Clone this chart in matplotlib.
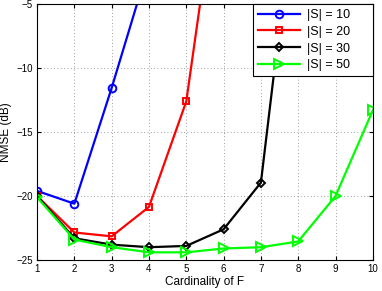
import matplotlib
matplotlib.use("Agg")
import matplotlib.pyplot as plt

plt.rcParams["font.family"] = ["Liberation Sans", "DejaVu Sans"]

# cardinality of F
card_f = [1, 2, 3, 4, 5, 6, 7, 8, 9, 10]

# NMSE (dB) for each |S|
nmse_s10 = [-19.6, -20.6, -11.55, -1.9]
nmse_s20 = [-20.0, -22.85, -23.15, -20.85, -12.6, 8.0]
nmse_s30 = [-20.0, -23.3, -23.8, -24.0, -23.9, -22.6, -18.95, 5.4]
nmse_s50 = [-20.1, -23.4, -24.0, -24.4, -24.4, -24.1, -24.0, -23.55, -20.0, -13.3]

labels = ["|S| = 10", "|S| = 20", "|S| = 30", "|S| = 50"]

fig = plt.figure(figsize=(3.82, 2.91), dpi=100)
ax = fig.add_axes([0.097, 0.1065, 0.879, 0.8795])

ax.plot(card_f[:len(nmse_s10)], nmse_s10, color="blue", marker="o", lw=1.6,
        ms=5.5, mfc="none", mew=1.4, label=labels[0])
ax.plot(card_f[:len(nmse_s20)], nmse_s20, color="red", marker="s", lw=1.6,
        ms=4.5, mfc="none", mew=1.4, label=labels[1])
ax.plot(card_f[:len(nmse_s30)], nmse_s30, color="black", marker="D", lw=1.6,
        ms=4.5, mfc="none", mew=1.4, label=labels[2])
ax.plot(card_f[:len(nmse_s50)], nmse_s50, color="#00ff00", marker=">", lw=1.6,
        ms=6.5, mfc="none", mew=1.4, label=labels[3])

ax.set_xlim(1, 10)
ax.set_ylim(-25, -5)
ax.set_xticks(card_f)
ax.set_yticks([-25, -20, -15, -10, -5])
ax.yaxis.set_major_formatter(matplotlib.ticker.FuncFormatter(lambda v, p: "\u2212%d" % abs(v)))
ax.tick_params(direction="in", labelsize=7, length=3, top=True, right=True, pad=3)
ax.grid(True, linestyle=(0, (1, 3)), color="gray", lw=0.6)
for s in ax.spines.values():
    s.set_linewidth(0.8)

ax.set_xlabel("Cardinality of F", fontsize=8.5, labelpad=1)
ax.set_ylabel("NMSE (dB)", fontsize=8.5, labelpad=3)

leg = ax.legend(loc="upper right", bbox_to_anchor=(0.643, 0, 0.357, 1.0),
                mode="expand", fontsize=9, borderaxespad=0, fancybox=False,
                edgecolor="black", framealpha=1, handlelength=3.4,
                labelspacing=0.38, borderpad=0.4, handletextpad=0.5)
leg.get_frame().set_linewidth(0.8)

fig.savefig("out.png", dpi=100)
